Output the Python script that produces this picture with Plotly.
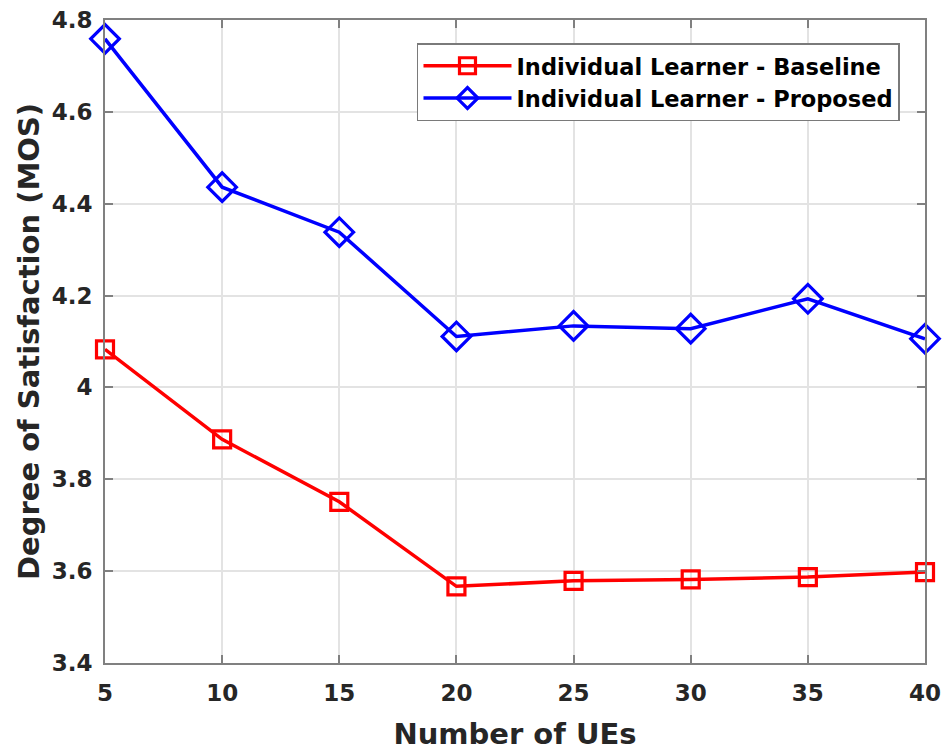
import plotly.graph_objects as go

num_ues = [5, 10, 15, 20, 25, 30, 35, 40]
baseline = [4.083, 3.887, 3.751, 3.567, 3.579, 3.582, 3.587, 3.598]
proposed = [4.759, 4.436, 4.338, 4.111, 4.134, 4.128, 4.193, 4.106]

x_ticks = [5, 10, 15, 20, 25, 30, 35, 40]
y_ticks = [3.4, 3.6, 3.8, 4.0, 4.2, 4.4, 4.6, 4.8]
y_tick_text = ["3.4", "3.6", "3.8", "4", "4.2", "4.4", "4.6", "4.8"]

FONT = "DejaVu Sans"
AX = "#808080"
GRID = "#e3e3e3"
TXT = "#262626"

fig = go.Figure()
fig.add_trace(go.Scatter(
    x=num_ues, y=baseline, mode="lines+markers",
    name="Individual Learner - Baseline",
    line=dict(color="#ff0000", width=3.5),
    marker=dict(symbol="square-open", size=17, color="#ff0000",
                line=dict(width=3.2, color="#ff0000")),
    cliponaxis=False,
))
fig.add_trace(go.Scatter(
    x=num_ues, y=proposed, mode="lines+markers",
    name="Individual Learner - Proposed",
    line=dict(color="#0000ff", width=3.5),
    marker=dict(symbol="diamond-open", size=22, color="#0000ff",
                line=dict(width=3.2, color="#0000ff")),
    cliponaxis=False,
))

fig.update_layout(
    width=944, height=751,
    margin=dict(l=105, r=19, t=20, b=88, autoexpand=False),
    paper_bgcolor="white", plot_bgcolor="white",
    font=dict(family=FONT, color=TXT),
    showlegend=True,
    legend=dict(
        x=0.9695, y=0.964, xanchor="right", yanchor="top",
        bgcolor="white", bordercolor="#7a7a7a", borderwidth=1.5,
        font=dict(family=FONT, size=22.5, color="black", weight="bold"),
        itemwidth=88, tracegroupgap=0,
    ),
    xaxis=dict(
        range=[5, 40], tickvals=x_ticks, ticktext=[str(v) for v in x_ticks],
        showgrid=True, gridcolor=GRID, gridwidth=1.5,
        showline=True, linecolor=AX, linewidth=2, mirror="ticks",
        ticks="inside", ticklen=8, tickcolor=AX, tickwidth=1.5,
        tickfont=dict(family=FONT, size=23, color=TXT, weight="bold"),
        ticklabelstandoff=8, automargin=False, ticklabeloverflow="allow",
        zeroline=False,
        title=dict(text="Number of UEs", standoff=20,
                   font=dict(family=FONT, size=29, color=TXT, weight="bold")),
    ),
    yaxis=dict(
        range=[3.4, 4.8], tickvals=y_ticks, ticktext=y_tick_text,
        showgrid=True, gridcolor=GRID, gridwidth=1.5,
        showline=True, linecolor=AX, linewidth=2, mirror="ticks",
        ticks="inside", ticklen=8, tickcolor=AX, tickwidth=1.5,
        tickfont=dict(family=FONT, size=23, color=TXT, weight="bold"),
        ticklabelstandoff=6, automargin=False, ticklabeloverflow="allow",
        zeroline=False,
        title=dict(text="Degree of Satisfaction (MOS)", standoff=4,
                   font=dict(family=FONT, size=29, color=TXT, weight="bold")),
    ),
)

fig.write_html(
    "out.html",
    config={"displayModeBar": False},
    post_script="document.body.style.margin='0';document.body.style.overflow='hidden';",
)
